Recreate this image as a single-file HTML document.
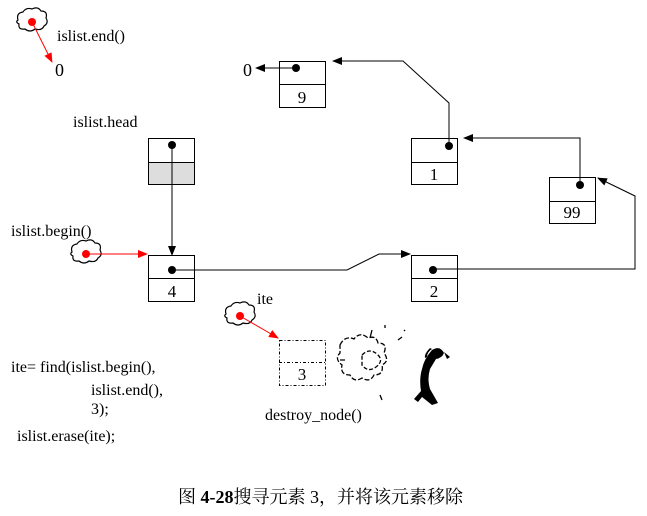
<!DOCTYPE html>
<html><head><meta charset="utf-8"><style>
html,body{margin:0;padding:0;background:#fff;width:647px;height:516px;overflow:hidden}
svg text{font-family:"Liberation Serif","Noto Serif CJK SC",serif;font-size:16px;fill:#000}
</style></head><body>
<svg width="647" height="516" viewBox="0 0 647 516" xmlns="http://www.w3.org/2000/svg">
<defs>
<marker id="ab" markerWidth="10" markerHeight="8" refX="9" refY="4" orient="auto" markerUnits="userSpaceOnUse"><path d="M0,0L10,4L0,8z" fill="#000"/></marker>
<marker id="ar" markerWidth="10" markerHeight="8" refX="9" refY="4" orient="auto" markerUnits="userSpaceOnUse"><path d="M0,0L10,4L0,8z" fill="#f00"/></marker>
<path id="cl" d="M-14,-2 q-2,-7 5,-8 q3,-5 9,-3 q6,-3 9,2 q7,0 5,7 q3,5 -2,8 q-2,5 -9,3 q-5,4 -10,0 q-7,1 -6,-5 q-4,-2 -1,-4z" fill="#fff" stroke="#000" stroke-width="1.2"/>
</defs>
<g stroke="#000" stroke-width="1" fill="none">
<rect x="148.5" y="138.5" width="46" height="46" fill="#fff"/>
<rect x="148.5" y="162.5" width="46" height="22" fill="#ddd"/>
<rect x="148.5" y="255.5" width="46" height="46"/><line x1="148" y1="278.5" x2="195" y2="278.5"/>
<rect x="411.5" y="255.5" width="46" height="46"/><line x1="411" y1="278.5" x2="458" y2="278.5"/>
<rect x="411.5" y="138.5" width="46" height="46"/><line x1="411" y1="162.5" x2="458" y2="162.5"/>
<rect x="549.5" y="177.5" width="46" height="46"/><line x1="549" y1="201.5" x2="596" y2="201.5"/>
<rect x="279.5" y="61.5" width="46" height="46"/><line x1="279" y1="84.5" x2="326" y2="84.5"/>
<rect x="279.5" y="340.5" width="46" height="45" stroke-dasharray="3,2,1,2"/><line x1="279" y1="362.5" x2="326" y2="362.5" stroke-dasharray="3,2,1,2"/>
<polyline points="172,145 172,255" marker-end="url(#ab)"/>
<polyline points="172,270 347,270 379,254 410,254" marker-end="url(#ab)"/>
<polyline points="433,269 635,269 635,196 598,178" marker-end="url(#ab)"/>
<polyline points="580,185 580,138 464,138" marker-end="url(#ab)"/>
<polyline points="449,146 449,103 403,61 333,61" marker-end="url(#ab)"/>
<polyline points="296,68 256,68" marker-end="url(#ab)"/>
</g>
<g fill="#000">
<circle cx="172" cy="145" r="4"/><circle cx="172" cy="270" r="4"/><circle cx="433" cy="270" r="4"/>
<circle cx="449" cy="146" r="4"/><circle cx="580" cy="185" r="4"/><circle cx="296" cy="68" r="4"/>
</g>
<use href="#cl" x="32" y="22"/><circle cx="32" cy="22" r="4" fill="#f00"/>
<line x1="32" y1="22" x2="52" y2="62" stroke="#f00" marker-end="url(#ar)"/>
<use href="#cl" x="86" y="254"/><circle cx="86" cy="254" r="4" fill="#f00"/>
<line x1="86" y1="254" x2="147" y2="254" stroke="#f00" marker-end="url(#ar)"/>
<use href="#cl" x="240" y="316"/><circle cx="240" cy="316" r="4" fill="#f00"/>
<line x1="240" y1="316" x2="278" y2="338" stroke="#f00" marker-end="url(#ar)"/>
<g stroke="#000" fill="none" stroke-width="1.3">
<path d="M340,345 q5,-10 14,-6 q6,-8 14,-1 q8,-3 10,5 q10,0 6,10 q6,8 -2,12 q2,10 -8,10 q-4,8 -12,3 q-8,5 -12,-3 q-10,0 -8,-10 q-8,-6 -2,-12z" stroke-dasharray="5,2"/>
<path d="M362,355 q8,-8 16,0 q6,6 -2,12 q-8,6 -14,-2z" stroke-dasharray="4,2"/>
<path d="M372,330 l-2,8 M385,325 l0,3 M398,340 l4,-3 M404,330 l1,1 M380,395 l2,5 M345,360 l-5,0"/>
</g>
<g fill="#000">
<path d="M432,350 q8,-5 12,3 q-2,5 -8,6 l-6,10 q-3,10 0,20 l8,14 l-6,2 l-10,-8 l-4,5 l-4,-3 l7,-8 q-2,-12 1,-22 q2,-10 10,-19z"/>
<path d="M430,348 q-6,6 -5,10 l2,-1 q0,-5 5,-8z M444,352 l6,5 l-3,2z"/>
</g>
<text x="57" y="41">islist.end()</text>
<text x="55" y="76" style="font-size:18px">0</text>
<text x="73" y="127">islist.head</text>
<text x="11" y="236">islist.begin()</text>
<text x="257" y="304">ite</text>
<text x="243" y="76" style="font-size:18px">0</text>
<text x="172" y="297" text-anchor="middle" style="font-size:17px">4</text>
<text x="434" y="297" text-anchor="middle" style="font-size:17px">2</text>
<text x="434" y="180" text-anchor="middle" style="font-size:17px">1</text>
<text x="572" y="218" text-anchor="middle" style="font-size:17px">99</text>
<text x="302" y="103" text-anchor="middle" style="font-size:17px">9</text>
<text x="302" y="380" text-anchor="middle" style="font-size:17px">3</text>
<text x="265" y="420">destroy_node()</text>
<text x="11" y="372">ite= find(islist.begin(),</text>
<text x="91" y="395">islist.end(),</text>
<text x="91" y="414">3);</text>
<text x="17" y="441">islist.erase(ite);</text>
<text x="178" y="503" style="font-size:18px">图 <tspan font-weight="bold">4-28</tspan>搜寻元素 3，并将该元素移除</text>
</svg>
</body></html>
